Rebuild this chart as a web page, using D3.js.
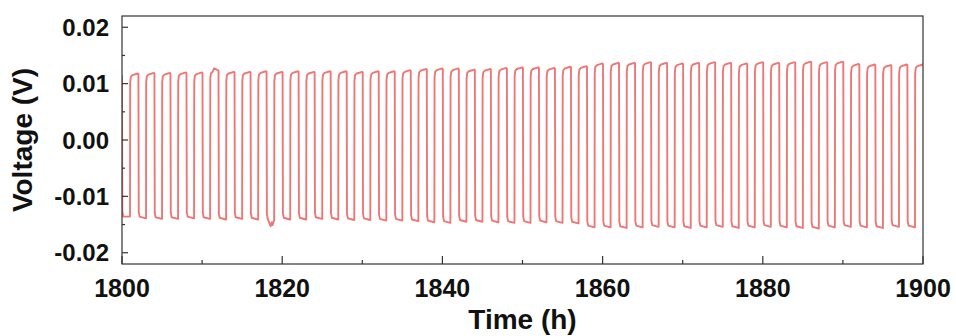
<!DOCTYPE html>
<html>
<head>
<meta charset="utf-8">
<script src="https://cdn.jsdelivr.net/npm/d3@7"></script>
<style>
  body { margin: 0; background: #fff; }
  text { font-family: Arial, "Liberation Sans", sans-serif; font-weight: bold; fill: #111; }
</style>
</head>
<body>
<div id="chart"></div>
<script>
// cycling protocol: 1 h charge / 1 h discharge, first charge step at 1801 h
const firstRise = 1801;
const periodH = 2;

// plateau voltage of each charge step (V)
const highV = [
  0.0118, 0.0119, 0.0119, 0.0120, 0.0120,
  0.0124,
  0.0121, 0.0121, 0.0122, 0.0121, 0.0122, 0.0121, 0.0122, 0.0122, 0.0121,
  0.0122, 0.0122, 0.0124, 0.0126, 0.0127,
  0.0127, 0.0125, 0.0126, 0.0128, 0.0129, 0.0129, 0.0128, 0.0130, 0.0131,
  0.0136, 0.0137, 0.0137, 0.0138, 0.0137, 0.0136, 0.0137, 0.0138, 0.0137, 0.0136, 0.0138, 0.0137, 0.0138, 0.0139, 0.0138, 0.0139,
  0.0135, 0.0134, 0.0133, 0.0134, 0.0134
];

// plateau voltage of each discharge step (V); first one is 1800-1801 h
const lowV = [
  -0.0136,
  -0.0139, -0.0140, -0.0140, -0.0139, -0.0140, -0.0141, -0.0140, -0.0141,
  -0.0143,
  -0.0141, -0.0141, -0.0140, -0.0141, -0.0142, -0.0142,
  -0.0143, -0.0143, -0.0144, -0.0146, -0.0147,
  -0.0145, -0.0145, -0.0146, -0.0147, -0.0147, -0.0146, -0.0147, -0.0148,
  -0.0155, -0.0155, -0.0156, -0.0155, -0.0154, -0.0155, -0.0156, -0.0155, -0.0154, -0.0156, -0.0155,
  -0.0154, -0.0155, -0.0156, -0.0157, -0.0155, -0.0154, -0.0155, -0.0156, -0.0154, -0.0155
];

// odd points (noise spikes) seen in the trace: [time h, voltage V]
const glitches = [[1811.5, 0.0127], [1818.55, -0.0153], [1818.7, -0.0146], [1818.8, -0.0151]];

const xTicks = [1800, 1820, 1840, 1860, 1880, 1900];
const yTicks = [-0.02, -0.01, 0.00, 0.01, 0.02];

// build the trace
let pts = [[1800, 0.0115], [1800.04, lowV[0] + 0.001], [1800.15, lowV[0]]];
highV.forEach((hi, k) => {
  const t = firstRise + k * periodH;
  const lp = pts[pts.length - 1][1];
  pts.push([t, lp], [t + 0.02, hi - 0.0016], [t + 0.1, hi - 0.0006], [t + 0.3, hi - 0.0003], [t + 0.97, hi]);
  const lo = lowV[k + 1];
  if (lo === undefined) { pts.push([1900, hi]); return; }
  pts.push([t + 1.05, hi - 0.0001], [t + 1.09, lo + 0.0011], [t + 1.2, lo + 0.0003], [t + 1.97, lo]);
});
pts = pts.concat(glitches).sort((a, b) => a[0] - b[0]);

const width = 956, height = 336;
const margin = {top: 16, right: 33, bottom: 72, left: 122};

const x = d3.scaleLinear().domain([1800, 1900]).range([margin.left, width - margin.right]);
const y = d3.scaleLinear().domain([-0.022, 0.022]).range([height - margin.bottom, margin.top]);

const svg = d3.select("#chart").append("svg")
  .attr("width", width)
  .attr("height", height);

svg.append("clipPath").attr("id", "clip")
  .append("rect")
  .attr("x", margin.left).attr("y", margin.top)
  .attr("width", x.range()[1] - x.range()[0])
  .attr("height", y.range()[0] - y.range()[1]);

svg.append("path")
  .datum(pts)
  .attr("clip-path", "url(#clip)")
  .attr("fill", "none")
  .attr("stroke", "#f07676")
  .attr("stroke-width", 1.9)
  .attr("stroke-linejoin", "round")
  .attr("d", d3.line().x(d => x(d[0])).y(d => y(d[1])));

// frame
svg.append("rect")
  .attr("x", margin.left).attr("y", margin.top)
  .attr("width", x.range()[1] - x.range()[0])
  .attr("height", y.range()[0] - y.range()[1])
  .attr("fill", "none")
  .attr("stroke", "#333")
  .attr("stroke-width", 1.2);

// x axis, ticks inside
const xMinor = d3.range(1810, 1900, 20);
const gx = svg.append("g").attr("transform", `translate(0,${height - margin.bottom})`);
gx.selectAll(".maj").data(xTicks).join("line")
  .attr("x1", d => x(d)).attr("x2", d => x(d)).attr("y1", 0).attr("y2", -8)
  .attr("stroke", "#333").attr("stroke-width", 1.2);
gx.selectAll(".min").data(xMinor).join("line")
  .attr("x1", d => x(d)).attr("x2", d => x(d)).attr("y1", 0).attr("y2", -4)
  .attr("stroke", "#333").attr("stroke-width", 1.2);
gx.selectAll("text").data(xTicks).join("text")
  .attr("x", d => x(d)).attr("y", 33)
  .attr("text-anchor", "middle")
  .attr("font-size", 25)
  .text(d => d);

// y axis, ticks inside
const yMinor = [-0.015, -0.005, 0.005, 0.015];
const gy = svg.append("g").attr("transform", `translate(${margin.left},0)`);
gy.selectAll(".maj").data(yTicks).join("line")
  .attr("y1", d => y(d)).attr("y2", d => y(d)).attr("x1", 0).attr("x2", 6)
  .attr("stroke", "#333").attr("stroke-width", 1.2);
gy.selectAll(".min").data(yMinor).join("line")
  .attr("y1", d => y(d)).attr("y2", d => y(d)).attr("x1", 0).attr("x2", 3)
  .attr("stroke", "#333").attr("stroke-width", 1.2);
gy.selectAll("text").data(yTicks).join("text")
  .attr("x", -13).attr("y", d => y(d))
  .attr("dy", "0.36em")
  .attr("text-anchor", "end")
  .attr("font-size", 24)
  .text(d => d3.format(".2f")(d).replace("−", "-"));

// axis titles
svg.append("text")
  .attr("x", (x.range()[0] + x.range()[1]) / 2).attr("y", 329)
  .attr("text-anchor", "middle")
  .attr("font-size", 28)
  .text("Time (h)");

svg.append("text")
  .attr("transform", `translate(32,${(y.range()[0] + y.range()[1]) / 2}) rotate(-90)`)
  .attr("text-anchor", "middle")
  .attr("font-size", 28)
  .text("Voltage (V)");
</script>
</body>
</html>
